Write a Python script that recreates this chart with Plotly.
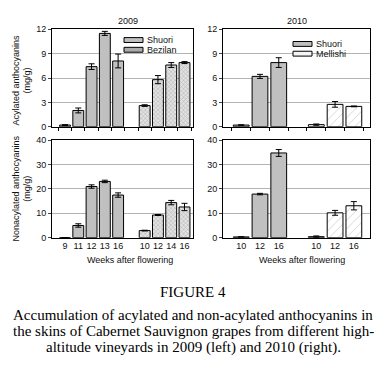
import plotly.graph_objects as go

# ---------------- data ----------------
weeks_2009_shuori = ["9", "11", "12", "13", "16"]
weeks_2009_bezilan = ["10", "12", "14", "16"]
weeks_2010_shuori = ["10", "12", "16"]
weeks_2010_mellishi = ["10", "12", "16"]

acyl_2009_shuori = [0.2, 2.0, 7.4, 11.5, 8.1]
acyl_2009_shuori_err = [0.05, 0.3, 0.35, 0.25, 0.85]
acyl_2009_bezilan = [2.6, 5.8, 7.6, 7.9]
acyl_2009_bezilan_err = [0.1, 0.5, 0.3, 0.12]
acyl_2010_shuori = [0.2, 6.2, 7.9]
acyl_2010_shuori_err = [0.03, 0.25, 0.6]
acyl_2010_mellishi = [0.25, 2.75, 2.5]
acyl_2010_mellishi_err = [0.08, 0.35, 0.05]

nonacyl_2009_shuori = [0.0, 5.0, 21.0, 23.1, 17.5]
nonacyl_2009_shuori_err = [0.0, 0.7, 0.7, 0.5, 0.9]
nonacyl_2009_bezilan = [2.9, 9.3, 14.4, 12.6]
nonacyl_2009_bezilan_err = [0.15, 0.2, 0.9, 1.5]
nonacyl_2010_shuori = [0.3, 17.9, 34.8]
nonacyl_2010_shuori_err = [0.05, 0.3, 1.4]
nonacyl_2010_mellishi = [0.4, 10.2, 13.1]
nonacyl_2010_mellishi_err = [0.3, 1.0, 1.7]

W, H = 387, 376
def px(x): return x / W
def py(y): return 1 - y / H

FONT = "Liberation Sans, Arial, sans-serif"
SERIF = "Liberation Serif, Times New Roman, serif"

shuori_style = dict(color="#c0c0c0", line=dict(color="black", width=1))
bezilan_style = dict(color="#d9d9d9", line=dict(color="black", width=1),
                     pattern=dict(shape="x", size=3, fgcolor="#767676", bgcolor="#e2e2e2", solidity=0.3))
mellishi_style = dict(color="white", line=dict(color="black", width=1),
                      pattern=dict(shape="/", size=6, fgcolor="#a8a8a8", bgcolor="white", solidity=0.15))

def err(a):
    return dict(type="data", array=a, color="black", thickness=1, width=3, visible=True)

def positions(first, second):
    p1 = list(range(len(first)))
    p2 = [len(first) + 1 + i for i in range(len(second))]
    return p1, p2

p09a, p09b = positions(weeks_2009_shuori, weeks_2009_bezilan)
p10a, p10b = positions(weeks_2010_shuori, weeks_2010_mellishi)

fig = go.Figure()

fig.add_trace(go.Bar(x=p09a, y=acyl_2009_shuori, error_y=err(acyl_2009_shuori_err), marker=shuori_style,
                     width=0.82, name="Shuori", showlegend=False, xaxis="x", yaxis="y"))
fig.add_trace(go.Bar(x=p09b, y=acyl_2009_bezilan, error_y=err(acyl_2009_bezilan_err), marker=bezilan_style,
                     width=0.82, name="Bezilan", showlegend=False, xaxis="x", yaxis="y"))
fig.add_trace(go.Bar(x=p10a, y=acyl_2010_shuori, error_y=err(acyl_2010_shuori_err), marker=shuori_style,
                     width=0.84, name="Shuori", showlegend=False, xaxis="x2", yaxis="y2"))
fig.add_trace(go.Bar(x=p10b, y=acyl_2010_mellishi, error_y=err(acyl_2010_mellishi_err), marker=mellishi_style,
                     width=0.84, name="Mellishi", showlegend=False, xaxis="x2", yaxis="y2"))
fig.add_trace(go.Bar(x=p09a, y=nonacyl_2009_shuori, error_y=err(nonacyl_2009_shuori_err), marker=shuori_style,
                     width=0.82, name="Shuori", showlegend=False, xaxis="x3", yaxis="y3"))
fig.add_trace(go.Bar(x=p09b, y=nonacyl_2009_bezilan, error_y=err(nonacyl_2009_bezilan_err), marker=bezilan_style,
                     width=0.82, name="Bezilan", showlegend=False, xaxis="x3", yaxis="y3"))
fig.add_trace(go.Bar(x=p10a, y=nonacyl_2010_shuori, error_y=err(nonacyl_2010_shuori_err), marker=shuori_style,
                     width=0.84, name="Shuori", showlegend=False, xaxis="x4", yaxis="y4"))
fig.add_trace(go.Bar(x=p10b, y=nonacyl_2010_mellishi, error_y=err(nonacyl_2010_mellishi_err), marker=mellishi_style,
                     width=0.84, name="Mellishi", showlegend=False, xaxis="x4", yaxis="y4"))

axis_common = dict(showline=True, linecolor="black", linewidth=1, mirror=True,
                   tickfont=dict(family=FONT, size=9, color="#111"), zeroline=False)

xl = [px(52), px(193)]
xr = [px(223), px(370)]
yt = [py(125), py(25)]
yb = [py(239), py(139)]

top_x = dict(showticklabels=False, tickmode="linear", tick0=0.5, dtick=1, ticks="outside",
             ticklen=3, tickcolor="black", showgrid=False)
ygrid = dict(ticks="outside", ticklen=3, showgrid=True, gridcolor="#b4b4b4", gridwidth=1)

fig.update_layout(
    width=W, height=H, margin=dict(l=0, r=0, t=0, b=0),
    paper_bgcolor="white", plot_bgcolor="white", barmode="overlay", showlegend=False,
    xaxis=dict(domain=xl, anchor="y", range=[-0.98, 9.64], **top_x, **axis_common),
    xaxis2=dict(domain=xr, anchor="y2", range=[-0.97, 6.86], **top_x, **axis_common),
    xaxis3=dict(domain=xl, anchor="y3", range=[-0.98, 9.64], tickmode="array",
                tickvals=p09a + p09b, ticktext=weeks_2009_shuori + weeks_2009_bezilan,
                ticks="", showgrid=False, **axis_common),
    xaxis4=dict(domain=xr, anchor="y4", range=[-0.97, 6.86], tickmode="array",
                tickvals=p10a + p10b, ticktext=weeks_2010_shuori + weeks_2010_mellishi,
                ticks="", showgrid=False, **axis_common),
    yaxis=dict(domain=yt, anchor="x", range=[0, 12], dtick=3, **ygrid, **axis_common),
    yaxis2=dict(domain=yt, anchor="x2", range=[0, 12], dtick=3, **ygrid, **axis_common),
    yaxis3=dict(domain=yb, anchor="x3", range=[0, 40], dtick=10, **ygrid, **axis_common),
    yaxis4=dict(domain=yb, anchor="x4", range=[0, 40], dtick=10, **ygrid, **axis_common),
)

# legend swatches (manual, compact like the original)
legend_items = [
    ("Shuori", "#c0c0c0", 124, 36),
    ("Bezilan", "#ababab", 124, 46),
    ("Shuori", "#c0c0c0", 293, 40),
    ("Mellishi", "#f4f4f4", 293, 50),
]
for name, col, lx, ly in legend_items:
    fig.add_shape(type="rect", xref="paper", yref="paper", x0=px(lx), x1=px(lx + 19),
                  y0=py(ly + 2.5), y1=py(ly - 2.5), fillcolor=col, line=dict(color="black", width=1))
    fig.add_annotation(xref="paper", yref="paper", showarrow=False, xanchor="left", yanchor="middle",
                       x=px(lx + 21), y=py(ly), text=name, font=dict(family=FONT, size=9, color="#111"))

annotations = [
    dict(text="2009", x=px(128), y=py(16)),
    dict(text="2010", x=px(297), y=py(16)),
    dict(text="Weeks after flowering", x=px(130), y=py(262)),
    dict(text="Weeks after flowering", x=px(301.5), y=py(262)),
    dict(text="Acylated anthocyanins<br>(mg/g)", x=px(21.5), y=py(77), textangle=-90),
    dict(text="Nonacylated anthocyanins<br>(mg/g)", x=px(21.5), y=py(189), textangle=-90),
]
for a in annotations:
    fig.add_annotation(xref="paper", yref="paper", showarrow=False, xanchor="center", yanchor="middle",
                       font=dict(family=FONT, size=9, color="#111"), **a)

caption = [
    ("FIGURE 4", 295),
    ("Accumulation of acylated and non-acylated anthocyanins in", 318),
    ("the skins of Cabernet Sauvignon grapes from different high-", 335),
    ("altitude vineyards in 2009 (left) and 2010 (right).", 352),
]
for text, y in caption:
    fig.add_annotation(xref="paper", yref="paper", showarrow=False, xanchor="center", yanchor="middle",
                       x=px(193), y=py(y), text=text, font=dict(family=SERIF, size=15, color="black"))

fig.write_html("out.html", config={"displayModeBar": False},
               post_script="document.body.style.margin='0px';")
